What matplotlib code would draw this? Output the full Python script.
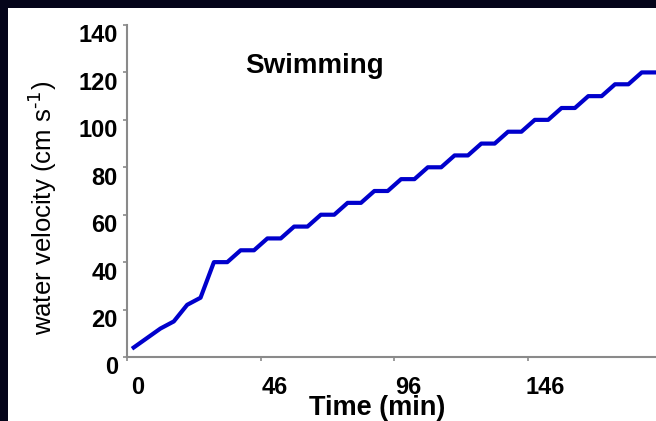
import matplotlib
matplotlib.use("Agg")
import matplotlib.pyplot as plt
from matplotlib.patches import Rectangle
from matplotlib.transforms import ScaledTranslation

plt.rcParams['font.family'] = ['Liberation Sans', 'DejaVu Sans']
plt.rcParams['mathtext.default'] = 'regular'

# water velocity at each step of the swim trial
velocity = [4, 8, 12, 15, 22, 25, 40, 40, 45, 45,
            50, 50, 55, 55, 60, 60, 65, 65, 70, 70,
            75, 75, 80, 80, 85, 85, 90, 90, 95, 95,
            100, 100, 105, 105, 110, 110, 115, 115, 120, 120]
time_labels = ["0", "46", "96", "146"]
label_every = 10
y_ticks = [0, 20, 40, 60, 80, 100, 120, 140]

W, H = 656, 421
fig = plt.figure(figsize=(W / 100, H / 100), dpi=100)
fig.patch.set_facecolor('#05051a')
fig.patches.append(Rectangle((8 / W, 0), 1, 1 - 8 / H, transform=fig.transFigure,
                             facecolor='white', edgecolor='none', zorder=-5))

step_px = 13.37
n_span = 43
ax = fig.add_axes([127 / W, 64 / H, n_span * step_px / W, 332 / H])
ax.set_facecolor('none')
ax.set_zorder(2)

x = list(range(len(velocity)))
ax.plot(x, velocity, color='#0000cc', lw=3.0, clip_on=False)

ax.set_xlim(-0.5, n_span - 0.5)
ax.set_ylim(0, 140)

for s in ['top', 'right']:
    ax.spines[s].set_visible(False)
for s in ['left', 'bottom']:
    ax.spines[s].set_color('#8a8a8a')
    ax.spines[s].set_linewidth(1.5)

ax.set_yticks(y_ticks)
ax.set_yticklabels([str(v) for v in y_ticks], fontsize=17, fontweight='bold')
ax.tick_params(axis='y', direction='out', length=2.6, width=1.2, color='#8a8a8a', pad=4)
for lab in ax.get_yticklabels():
    lab.set_transform(lab.get_transform() + ScaledTranslation(0, -8.5 / 100, fig.dpi_scale_trans))

# category ticks sit on the boundaries, labels on every tenth category
label_pos = [i * label_every for i in range(len(time_labels))]
ax.set_xticks(label_pos)
ax.set_xticklabels(time_labels, fontsize=17, fontweight='bold')
ax.set_xticks([p - 0.5 for p in range(0, n_span, label_every)], minor=True)
ax.tick_params(axis='x', which='major', length=0, pad=13.5)
ax.tick_params(axis='x', which='minor', direction='out', length=3, width=1.2, color='#8a8a8a')
x_shift = [4, 7, 7, 10]
for lab, dx in zip(ax.get_xticklabels(), x_shift):
    lab.set_transform(lab.get_transform() + ScaledTranslation(dx / 100, 0, fig.dpi_scale_trans))

fig.text(377.5 / W, 1 - 415 / H, 'Time (min)', fontsize=19.5, fontweight='bold',
         ha='center', va='baseline', zorder=3)
fig.text(43 / W, 1 - 208 / H, r'water velocity (cm s$^{\text{-1}}$)', fontsize=18.5,
         rotation=90, ha='center', va='center', zorder=3)
fig.text(245 / W, 1 - 73 / H, 'Swimming', fontsize=20, fontweight='bold',
         ha='left', va='baseline', zorder=3)

fig.savefig('out.png', dpi=100, facecolor=fig.get_facecolor())
